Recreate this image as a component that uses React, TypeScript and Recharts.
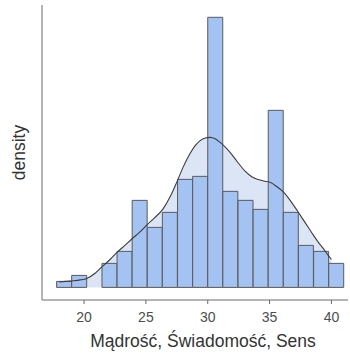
import React from "react";
import { ComposedChart, Bar, Area, Line, XAxis, YAxis } from "recharts";

// Histogram bins (centres) and counts
const binMids = [
  18.39, 19.61, 20.83, 22.06, 23.28, 24.5, 25.72, 26.94, 28.17, 29.39,
  30.61, 31.83, 33.06, 34.28, 35.5, 36.72, 37.94, 39.17, 40.39,
];
const binCounts = [2, 4, 0, 8, 12, 29, 20, 25, 36, 37, 90, 32, 29, 26, 59, 25, 14, 12, 8];

// Kernel density estimate, scaled to the count axis
const densX = [
  18.0, 18.5, 19.13, 19.7, 20.22, 20.89, 21.37, 22.1, 22.64, 23.3, 23.88, 24.5,
  25.12, 25.7, 26.36, 27.0, 27.49, 28.0, 28.57, 29.0, 29.38, 29.8, 30.19, 30.6,
  31.0, 31.4, 31.8, 32.2, 32.61, 33.0, 33.42, 33.8, 34.23, 34.6, 35.04, 35.58,
  36.11, 36.5, 36.92, 37.3, 37.73, 38.1, 38.54, 38.95, 39.35, 39.7, 40.0,
];
const densY = [
  1.8, 2.0, 2.2, 2.5, 3.0, 4.7, 6.6, 9.3, 11.6, 14.0, 16.2, 18.4,
  21.0, 23.2, 26.0, 30.5, 35.0, 40.0, 44.6, 47.3, 48.9, 49.8, 50.0, 49.5,
  48.3, 46.8, 45.0, 42.9, 40.7, 38.8, 37.3, 36.4, 35.8, 35.4, 35.0, 33.6,
  31.8, 29.9, 27.5, 25.2, 22.5, 20.2, 17.4, 15.0, 12.9, 10.9, 9.3,
];

const xTicks = [20, 25, 30, 35, 40];
const xDomain: [number, number] = [16.6, 41.34];
const yDomain: [number, number] = [-4.2, 94.1];

const histData = binMids.map((x, i) => ({ x, count: binCounts[i] }));
const densData = densX.map((x, i) => ({ x, d: densY[i] }));

const FONT = "'Liberation Sans', Arial, sans-serif";

export default function App() {
  return (
    <div style={{ position: "absolute", left: 0, top: 0, background: "#fff" }}>
      <ComposedChart
        width={350}
        height={360}
        data={histData}
        margin={{ top: 5, right: 2, bottom: 0, left: 0 }}
        barCategoryGap={0}
        barGap={0}
      >
        <XAxis
          dataKey="x"
          type="number"
          domain={xDomain}
          allowDataOverflow
          ticks={xTicks}
          height={60}
          tickSize={4}
          tickMargin={8}
          stroke="#6b6b6b"
          tick={{ fill: "#4d4d4d", fontSize: 14, fontFamily: FONT }}
          label={{
            value: "Mądrość, Świadomość, Sens",
            position: "insideBottom",
            offset: 13,
            dx: 8,
            fill: "#333",
            fontSize: 17.5,
            fontFamily: FONT,
          }}
        />
        <XAxis
          xAxisId="curve"
          dataKey="x"
          type="number"
          domain={xDomain}
          allowDataOverflow
          hide
        />
        <YAxis
          type="number"
          domain={yDomain}
          allowDataOverflow
          width={42}
          tick={false}
          tickLine={false}
          stroke="#6b6b6b"
          label={{
            value: "density",
            angle: -90,
            position: "center",
            dx: -2,
            fill: "#333",
            fontSize: 17.5,
            fontFamily: FONT,
          }}
        />
        <Area
          xAxisId="curve"
          data={densData}
          dataKey="d"
          type="monotone"
          baseValue={0}
          fill="#dbe5f6"
          fillOpacity={1}
          stroke="none"
          isAnimationActive={false}
        />
        <Bar
          dataKey="count"
          fill="#a4c2f2"
          stroke="#5a5a5a"
          strokeWidth={1}
          isAnimationActive={false}
        />
        <Line
          xAxisId="curve"
          data={densData}
          dataKey="d"
          type="monotone"
          stroke="#3c3c3c"
          strokeWidth={1.1}
          dot={false}
          activeDot={false}
          isAnimationActive={false}
        />
      </ComposedChart>
    </div>
  );
}
